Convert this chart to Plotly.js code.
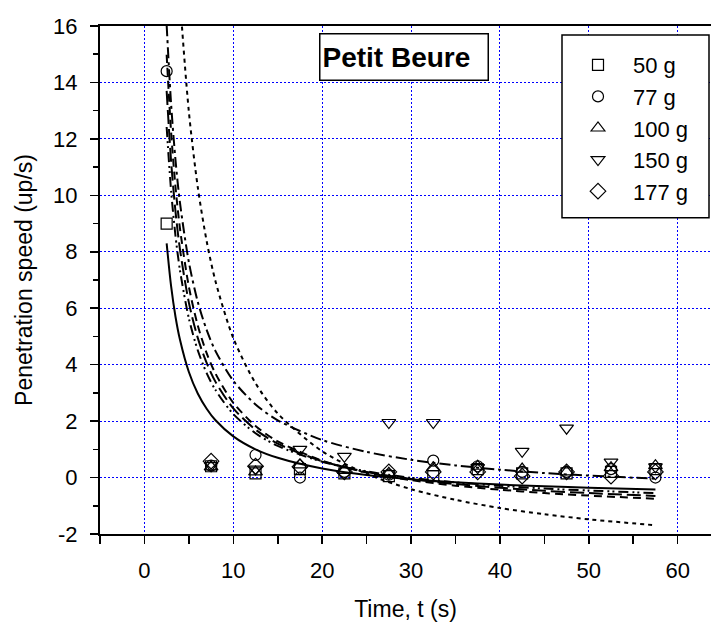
<!DOCTYPE html>
<html>
<head>
<meta charset="utf-8">
<script src="https://cdn.plot.ly/plotly-3.0.1.min.js"></script>
<style>
  html, body { margin: 0; padding: 0; background: #ffffff; }
  #chart { width: 711px; height: 625px; }
</style>
</head>
<body>
<div id="chart"></div>
<script>
// ---- measured data (time in s, penetration speed in up/s) ----
const times = [2.5, 7.5, 12.5, 17.5, 22.5, 27.5, 32.5, 37.5, 42.5, 47.5, 52.5, 57.5];
const seriesNames = ["50 g", "77 g", "100 g", "150 g", "177 g"];
const speed50  = [9.0, 0.40, 0.15, 0.30, 0.15, 0.05, 0.05, 0.30, 0.15, 0.15, 0.20, 0.30];
const speed77  = [14.4, 0.42, 0.80, 0.00, 0.20, 0.10, 0.60, 0.40, 0.20, 0.20, 0.30, 0.00];
const speed100 = [null, 0.38, 0.20, 0.45, 0.25, 0.15, 0.35, 0.40, 0.30, 0.20, 0.35, 0.42];
const speed150 = [null, 0.42, 0.30, 1.00, 0.75, 1.95, 1.95, 0.35, 0.93, 1.75, 0.55, 0.38];
const speed177 = [null, 0.58, 0.40, 0.38, 0.20, 0.20, 0.20, 0.20, 0.05, 0.20, 0.05, 0.20];

// ---- fitted curves, values ----
const fitT = [2.5, 3, 3.5, 4, 5, 6, 7, 8, 10, 12.5, 15, 20, 25, 30, 35, 40, 45, 50, 57.5];
const fitSolid     = [8.3, 6.78, 5.69, 4.88, 3.74, 2.98, 2.44, 2.03, 1.46, 1.0, 0.7, 0.32, 0.09, -0.06, -0.17, -0.25, -0.31, -0.36, -0.42];
const fitDashDotDot= [12.42, 10.16, 8.55, 7.34, 5.64, 4.51, 3.7, 3.1, 2.25, 1.57, 1.12, 0.56, 0.22, -0.01, -0.17, -0.29, -0.39, -0.46, -0.55];
const fitLongDash  = [13.7, 11.2, 9.41, 8.08, 6.2, 4.95, 4.06, 3.39, 2.45, 1.7, 1.2, 0.58, 0.2, -0.05, -0.23, -0.36, -0.47, -0.55, -0.65];
const fitDash      = [14.98, 12.24, 10.28, 8.82, 6.76, 5.39, 4.41, 3.68, 2.65, 1.83, 1.28, 0.6, 0.18, -0.09, -0.29, -0.43, -0.55, -0.64, -0.75];
const fitDashDot   = [16.03, 13.23, 11.23, 9.73, 7.63, 6.23, 5.23, 4.48, 3.43, 2.59, 2.03, 1.33, 0.91, 0.63, 0.43, 0.28, 0.16, 0.07, -0.04];
const fitShortDash = [29.0, 23.65, 19.83, 16.97, 12.96, 10.29, 8.38, 6.95, 4.94, 3.34, 2.27, 0.93, 0.13, -0.41, -0.79, -1.08, -1.3, -1.48, -1.69];

const xTicks = [0, 10, 20, 30, 40, 50, 60];
const yTicks = [-2, 0, 2, 4, 6, 8, 10, 12, 14, 16];

const FONT = "Liberation Sans, Arial, sans-serif";

function curve(y, dash) {
  return {
    x: fitT, y: y, type: "scatter", mode: "lines",
    line: { color: "#000000", width: 2, dash: dash, shape: "spline", smoothing: 0.8 },
    showlegend: false, hoverinfo: "skip"
  };
}
function pts(y, name, symbol, size) {
  return {
    x: times, y: y, type: "scatter", mode: "markers", name: name,
    marker: { symbol: symbol, size: size, color: "#000000", line: { color: "#000000", width: 1.2 } }
  };
}

const data = [
  curve(fitSolid, "solid"),
  curve(fitDashDotDot, "10px,4px,2px,3px,2px,4px"),
  curve(fitLongDash, "14px,5px"),
  curve(fitDash, "8px,5px"),
  curve(fitDashDot, "11px,4px,3px,4px"),
  curve(fitShortDash, "4px,4px"),
  pts(speed50, seriesNames[0], "square-open", 11),
  pts(speed77, seriesNames[1], "circle-open", 11),
  pts(speed100, seriesNames[2], "triangle-up-open", 12),
  pts(speed150, seriesNames[3], "triangle-down-open", 12),
  pts(speed177, seriesNames[4], "diamond-open", 12)
];

// pixel helpers for the fixed 711x625 frame
const L = 100, T = 26, PW = 611, PH = 508.5;
const px = v => (v - L) / PW;
const py = v => (T + PH - v) / PH;

const layout = {
  width: 711, height: 625,
  margin: { l: 100, r: 0, t: 26, b: 90.5 },
  paper_bgcolor: "#ffffff", plot_bgcolor: "#ffffff",
  font: { family: FONT, color: "#000000", size: 22 },
  xaxis: {
    range: [-5, 63.75], tickvals: xTicks, ticktext: xTicks.map(String),
    ticks: "outside", ticklen: 8, tickwidth: 1.5, tickcolor: "#000",
    minor: { dtick: 5, tick0: 0, ticks: "outside", ticklen: 8, tickwidth: 1.5, tickcolor: "#000", showgrid: false },
    showline: true, linecolor: "#000", linewidth: 2, mirror: true,
    showgrid: true, gridcolor: "#0000ff", gridwidth: 1, griddash: "2px,2px",
    zeroline: false, tickfont: { size: 22 }, ticklabelstandoff: 8,
    title: { text: "Time, t (s)", font: { size: 23 }, standoff: 18 }
  },
  yaxis: {
    range: [-2, 16], tickvals: yTicks, ticktext: yTicks.map(String),
    ticks: "outside", ticklen: 8, tickwidth: 1.5, tickcolor: "#000",
    minor: { dtick: 1, tick0: 0, ticks: "outside", ticklen: 5, tickwidth: 1.5, tickcolor: "#000", showgrid: false },
    showline: true, linecolor: "#000", linewidth: 2, mirror: false,
    showgrid: true, gridcolor: "#0000ff", gridwidth: 1, griddash: "2px,2px",
    zeroline: false, tickfont: { size: 22 }, ticklabelstandoff: 8,
    title: { text: "Penetration speed (up/s)", font: { size: 23 }, standoff: 14 }
  },
  legend: {
    x: px(563), y: py(44), xanchor: "left", yanchor: "top",
    bgcolor: "rgba(0,0,0,0)", borderwidth: 0,
    font: { size: 22, family: FONT }, itemwidth: 60, tracegroupgap: 0
  },
  shapes: [{
    type: "rect", xref: "paper", yref: "paper", layer: "above",
    x0: px(562), x1: px(709), y0: py(218), y1: py(35),
    line: { color: "#000000", width: 1.5 }, fillcolor: "#ffffff"
  }],
  annotations: [{
    xref: "paper", yref: "paper", x: px(403.5), y: py(57.5), xanchor: "center", yanchor: "middle",
    text: "<b>Petit Beure</b>", showarrow: false, align: "left",
    width: 163, height: 41,
    font: { size: 28, family: FONT, color: "#000" },
    bgcolor: "#ffffff", bordercolor: "#000000", borderwidth: 1.5, borderpad: 2
  }],
  showlegend: true
};

Plotly.newPlot("chart", data, layout, { displayModeBar: false, staticPlot: true });
</script>
</body>
</html>
